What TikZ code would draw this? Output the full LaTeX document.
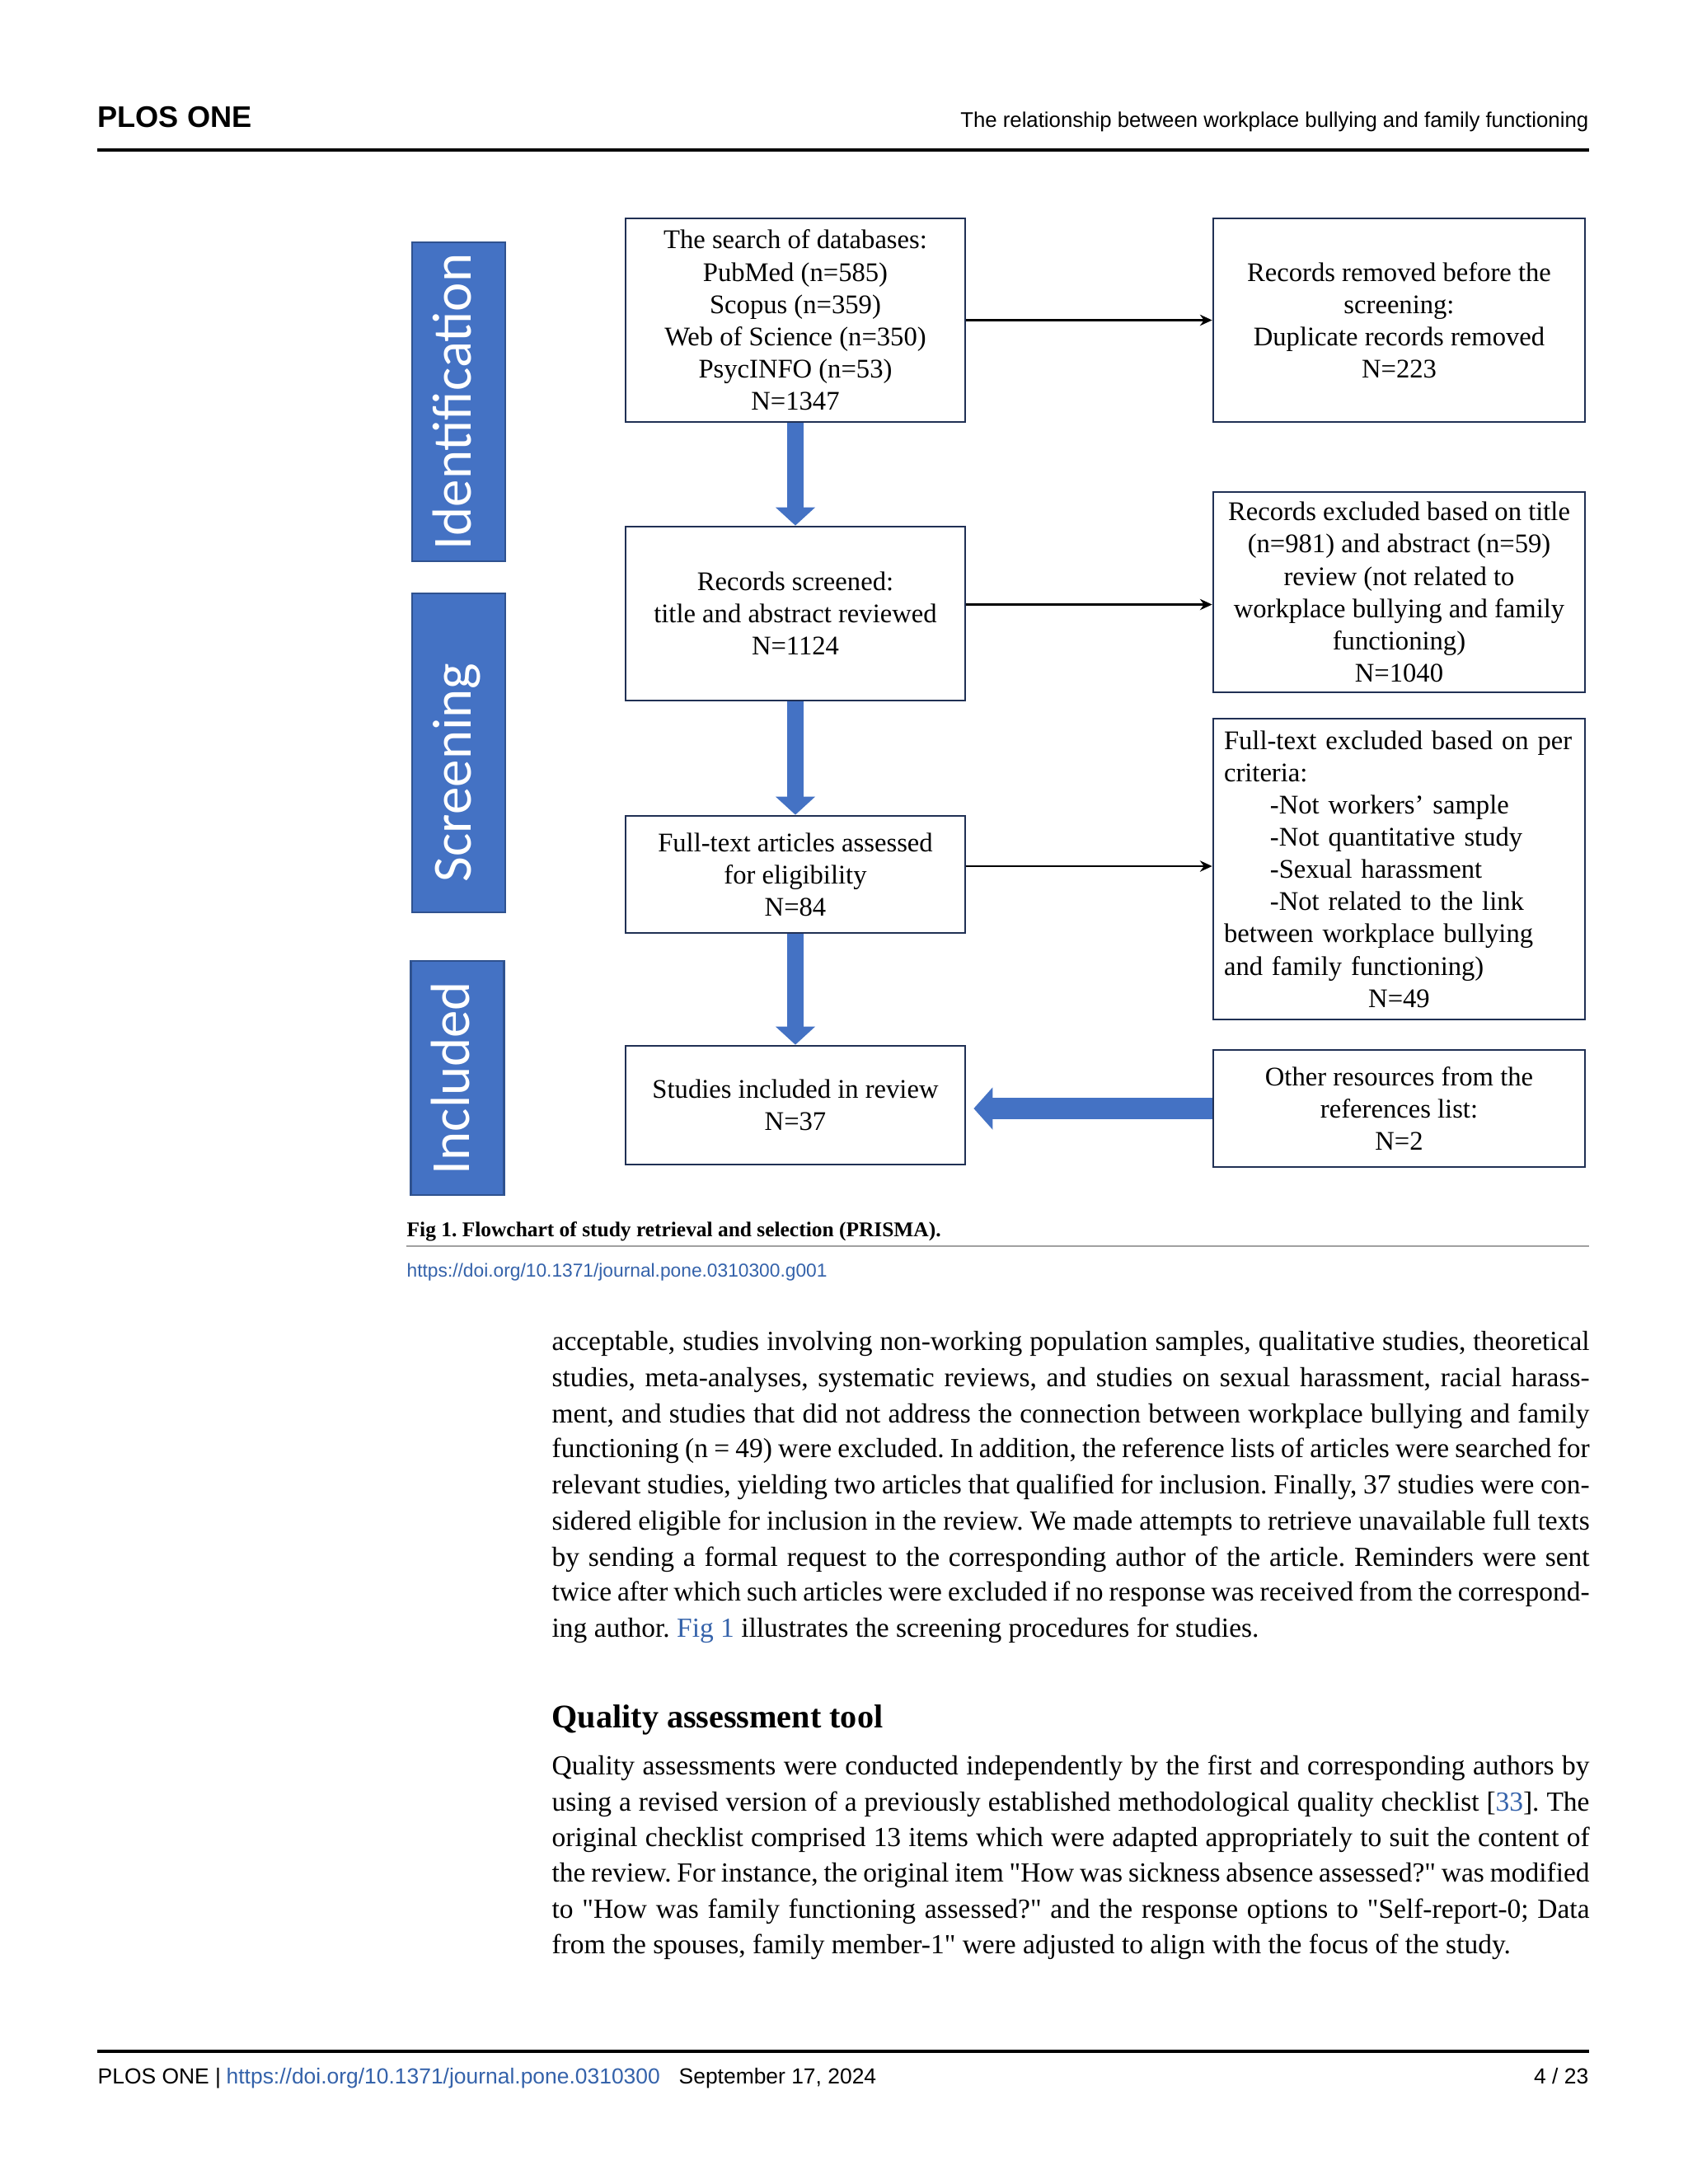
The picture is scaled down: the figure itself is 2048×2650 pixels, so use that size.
\documentclass[tikz,border=0pt]{standalone}
\usepackage{fontspec}
\setmainfont{Liberation Serif}[Ligatures=TeXOff]
\setsansfont{Liberation Sans}
\newfontfamily\rotulofonte{Carlito}
\usetikzlibrary{arrows.meta,calc}
\frenchspacing

\definecolor{azul}{RGB}{68,114,196}
\definecolor{azulborda}{RGB}{47,82,143}
\definecolor{contorno}{RGB}{32,48,84}
\definecolor{linkcor}{RGB}{52,98,170}
\definecolor{cinza}{RGB}{160,160,160}

% one pixel of the 2048 x 2650 page
\newcommand{\pxu}{0.298828pt}

\begin{document}
\begin{tikzpicture}[
    x=0.298828pt, y=-0.298828pt,
    every node/.style={inner sep=0pt},
    caixa/.style={draw=contorno, line width=0.8pt, fill=white,
        minimum width=412*\pxu, inner sep=2pt, align=center,
        font=\fontsize{9.75}{11.7}\selectfont},
    largo/.style={minimum width=451*\pxu},
    faixa/.style={fill=azul, draw=azulborda, line width=0.8pt, rotate=90,
        text=white, font=\rotulofonte\fontsize{20}{24}\selectfont,
        minimum height=113*\pxu, text height=12pt, text depth=3.3pt},
    seta/.style={-{Stealth[length=4.4pt,width=4pt]}, line width=0.8pt},
    blocovert/.style={draw=azul, line width=5.7pt,
        -{Triangle[width=14pt,length=6.6pt]}},
    blocohor/.style={draw=azul, line width=7.5pt, shorten >=2.7pt,
        -{Triangle[width=15pt,length=6.9pt]}},
    corpo/.style={anchor=base west, font=\fontsize{10}{13}\selectfont},
    rodape/.style={anchor=base west, font=\sffamily\fontsize{7.9}{9}\selectfont}
]
\path[use as bounding box, fill=white] (0,0) rectangle (2048,2650);

% Cabecalho
\node[anchor=base west, font=\sffamily\bfseries\fontsize{10.8}{13}\selectfont] (revista) at (118,154) {PLOS ONE};
\node[anchor=base east, font=\sffamily\fontsize{7.7}{9}\selectfont] (titulo) at (1928,154) {The relationship between workplace bullying and family functioning};
\draw[line width=1pt] (118,182) -- (1928,182);

% Faixas das etapas
\node[faixa, minimum width=387*\pxu] (identificacao) at (556.5,487.5) {Identification};
\node[faixa, minimum width=387*\pxu] (triagemrot) at (556.5,913.5) {Screening\hspace*{14.3pt}};
\node[faixa, minimum width=284*\pxu] (inclusao) at (555,1308) {Included};

% Caixas do fluxograma
\node[caixa, minimum height=247*\pxu] (busca) at (965,388.5)
    {The search of databases:\\PubMed (n=585)\\Scopus (n=359)\\Web of Science (n=350)\\PsycINFO (n=53)\\N=1347};
\node[caixa, largo, minimum height=247*\pxu] (removidos) at (1697.5,388.5)
    {Records removed before the\\screening:\\Duplicate records removed\\N=223};
\node[caixa, minimum height=211*\pxu] (triagem) at (965,744.5)
    {Records screened:\\title and abstract reviewed\\N=1124};
\node[caixa, largo, minimum height=243*\pxu] (excluidos) at (1697.5,718.5)
    {Records excluded based on title\\(n=981) and abstract (n=59)\\review (not related to\\workplace bullying and family\\functioning)\\N=1040};
\node[caixa, minimum height=142*\pxu] (textocompleto) at (965,1061)
    {Full-text articles assessed\\for eligibility\\N=84};
\node[caixa, largo, minimum height=365*\pxu, text width=127pt, align=left] (textoexcl) at (1697.5,1054.5)
    {Full-text excluded based on per\\criteria:\\
     \hspace*{16.7pt}-Not workers’ sample\\
     \hspace*{16.7pt}-Not quantitative study\\
     \hspace*{16.7pt}-Sexual harassment\\
     \hspace*{16.7pt}-Not related to the link\\
     between workplace bullying\\and family functioning)\\
     \makebox[127pt]{N=49}};
\node[caixa, minimum height=144*\pxu] (incluidos) at (965,1341)
    {Studies included in review\\N=37};
\node[caixa, largo, minimum height=142*\pxu] (outras) at (1697.5,1345)
    {Other resources from the\\references list:\\N=2};

% Setas
\draw[blocovert] (busca.south) -- (triagem.north);
\draw[blocovert] (triagem.south) -- (textocompleto.north);
\draw[blocovert] (textocompleto.south) -- (incluidos.north);
\draw[blocohor] (outras.west) -- (outras.west -| incluidos.east);

\coordinate (saidatriagem) at ($(triagem.east)+(0,-11)$);
\coordinate (saidatexto) at ($(textocompleto.east)+(0,-10)$);
\draw[seta] (busca.east) -- (removidos.west);
\draw[seta] (saidatriagem) -- (saidatriagem -| excluidos.west);
\draw[seta] (saidatexto) -- (saidatexto -| textoexcl.west);

% Legenda
\node[anchor=base west, font=\bfseries\fontsize{7.6}{9}\selectfont] (legenda) at (493,1500)
    {Fig 1. Flowchart of study retrieval and selection (PRISMA).};
\draw[cinza, line width=0.8pt] (493,1512) -- (1928,1512);
\node[anchor=base west, font=\sffamily\fontsize{6.8}{8}\selectfont, text=linkcor] (doi) at (493,1549)
    {https://doi.org/10.1371/journal.pone.0310300.g001};

% Texto corrido
\node[corpo] (p1) at (669,1638) {\makebox[376.2pt][s]{acceptable, studies involving non-working population samples, qualitative studies, theoretical}};
\node[corpo] (p2) at (669,1682) {\makebox[376.2pt][s]{studies, meta-analyses, systematic reviews, and studies on sexual harassment, racial harass-}};
\node[corpo] (p3) at (669,1726) {\makebox[376.2pt][s]{ment, and studies that did not address the connection between workplace bullying and family}};
\node[corpo] (p4) at (669,1768) {\makebox[376.2pt][s]{functioning (n = 49) were excluded. In addition, the reference lists of articles were searched for}};
\node[corpo] (p5) at (669,1812) {\makebox[376.2pt][s]{relevant studies, yielding two articles that qualified for inclusion. Finally, 37 studies were con-}};
\node[corpo] (p6) at (669,1856) {\makebox[376.2pt][s]{sidered eligible for inclusion in the review. We made attempts to retrieve unavailable full texts}};
\node[corpo] (p7) at (669,1900) {\makebox[376.2pt][s]{by sending a formal request to the corresponding author of the article. Reminders were sent}};
\node[corpo] (p8) at (669,1942) {\makebox[376.2pt][s]{twice after which such articles were excluded if no response was received from the correspond-}};
\node[corpo] (p9) at (669,1986) {ing author. \textcolor{linkcor}{Fig 1} illustrates the screening procedures for studies.};

\node[anchor=base west, font=\bfseries\fontsize{12}{14}\selectfont] (secao) at (669,2096) {Quality assessment tool};

\node[corpo] (q1) at (669,2153) {\makebox[376.2pt][s]{Quality assessments were conducted independently by the first and corresponding authors by}};
\node[corpo] (q2) at (669,2197) {\makebox[376.2pt][s]{using a revised version of a previously established methodological quality checklist [\textcolor{linkcor}{33}]. The}};
\node[corpo] (q3) at (669,2240) {\makebox[376.2pt][s]{original checklist comprised 13 items which were adapted appropriately to suit the content of}};
\node[corpo] (q4) at (669,2283) {\makebox[376.2pt][s]{the review. For instance, the original item "How was sickness absence assessed?" was modified}};
\node[corpo] (q5) at (669,2327) {\makebox[376.2pt][s]{to "How was family functioning assessed?" and the response options to "Self-report-0; Data}};
\node[corpo] (q6) at (669,2370) {from the spouses, family member-1" were adjusted to align with the focus of the study.};

% Rodape
\draw[line width=1pt] (118,2489) -- (1928,2489);
\node[rodape] (rodrevista) at (118,2528) {PLOS ONE |};
\node[rodape, text=linkcor] (rodlink) at (274,2528) {https://doi.org/10.1371/journal.pone.0310300};
\node[rodape] (roddata) at (823,2528) {September 17, 2024};
\node[rodape, anchor=base east] (rodpagina) at (1928,2528) {4 / 23};

\end{tikzpicture}
\end{document}
